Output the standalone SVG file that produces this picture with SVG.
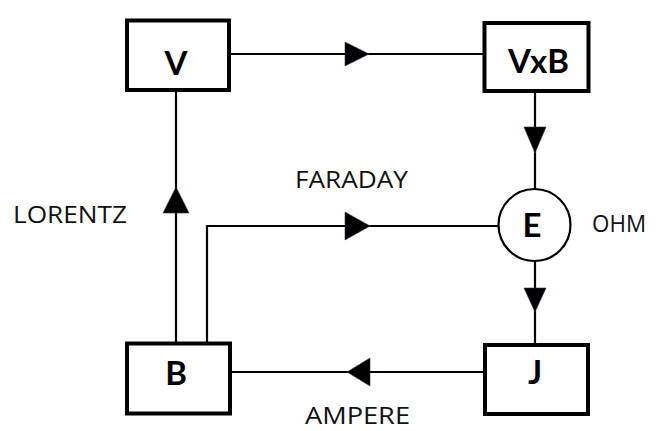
<svg xmlns="http://www.w3.org/2000/svg" width="659" height="431" viewBox="0 0 659 431">
<style>
.box{fill:#fff;stroke:#000;stroke-width:4}
.circ{fill:#fff;stroke:#000;stroke-width:2.2}
.ln{fill:none;stroke:#000;stroke-width:2.2}
.nt{font-family:Lato,"Open Sans","Liberation Sans",sans-serif;font-weight:bold;font-size:33px;fill:#000;text-anchor:middle}
.lb{font-family:"Open Sans",Lato,"Liberation Sans",sans-serif;font-size:24px;fill:#111}
.ah{fill:#000;stroke:#1f3a5a;stroke-width:0.6}
</style>
<rect width="659" height="431" fill="#fff"/>
<g id="connectors">
<path class="ln" d="M229 54H484"/>
<path class="ln" d="M535 92V189"/>
<path class="ln" d="M535 261V345"/>
<path class="ln" d="M485 372H230"/>
<path class="ln" d="M176 342V91"/>
<path class="ln" d="M207 342V226H499"/>
<polygon class="ah" points="345,42 369,54 345,66"/>
<polygon class="ah" points="524,127 546,127 535,153"/>
<polygon class="ah" points="345,212 370,226 345,240"/>
<polygon class="ah" points="524,288 546,288 535,312"/>
<polygon class="ah" points="370,358 347,372 370,386"/>
<polygon class="ah" points="163,213 189,213 176,187"/>
</g>
<g id="node-V"><rect class="box" x="127" y="20.5" width="102" height="69.5"/><text class="nt" x="176" y="75">V</text></g>
<g id="node-VxB"><rect class="box" x="484.5" y="23" width="104" height="68"/><text class="nt" x="538.5" y="73">VxB</text></g>
<g id="node-E"><circle class="circ" cx="534.5" cy="225" r="36"/><text class="nt" x="532" y="237">E</text></g>
<g id="node-B"><rect class="box" x="127" y="343.5" width="103" height="70"/><text class="nt" x="176" y="385">B</text></g>
<g id="node-J"><rect class="box" x="485" y="345" width="103" height="69"/><text class="nt" x="535" y="384">J</text></g>
<g id="labels">
<text class="lb" x="13" y="223" textLength="114" lengthAdjust="spacingAndGlyphs">LORENTZ</text>
<text class="lb" x="295" y="188" textLength="113" lengthAdjust="spacingAndGlyphs">FARADAY</text>
<text class="lb" x="592" y="232" textLength="54" lengthAdjust="spacingAndGlyphs">OHM</text>
<text class="lb" x="305" y="424" textLength="105" lengthAdjust="spacingAndGlyphs">AMPERE</text>
</g>
</svg>
